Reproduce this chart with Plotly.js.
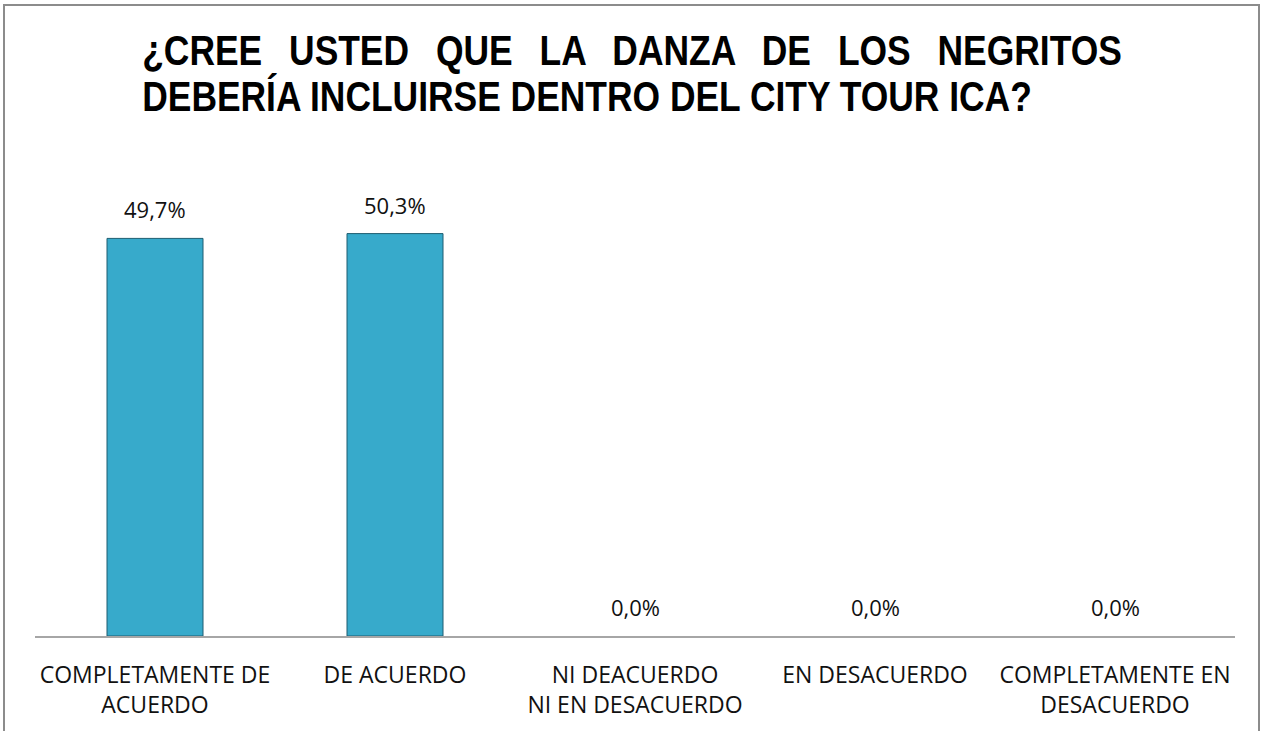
<!DOCTYPE html>
<html>
<head>
<meta charset="utf-8">
<script src="https://cdn.plot.ly/plotly-3.0.1.min.js"></script>
<style>
  body { margin: 0; background: #fff; }
  #frame {
    position: absolute; left: 3px; top: 4px; width: 1253px; height: 740px;
    border: 2px solid #8c8c8c; border-bottom: none; pointer-events: none;
  }
  #chart { position: absolute; left: 0; top: 0; width: 1267px; height: 731px; }
</style>
</head>
<body>
<div id="chart"></div>
<div id="frame"></div>
<script>
const chartDiv = document.getElementById("chart")

// categories (tick labels) and percentages
const categories = [
    "COMPLETAMENTE DE<br>ACUERDO",
    "DE ACUERDO",
    "NI DEACUERDO<br>NI EN DESACUERDO",
    "EN DESACUERDO",
    "COMPLETAMENTE EN<br>DESACUERDO"
]
const percentages = [49.7, 50.3, 0.0, 0.0, 0.0]
const valueLabels = percentages.map(v => v.toFixed(1).replace(".", ",") + "%")

const titleLines = [
    "¿CREE USTED QUE LA DANZA DE LOS NEGRITOS",
    "DEBERÍA INCLUIRSE DENTRO DEL CITY TOUR ICA?"
]

const W = 1267, H = 731
const margin = { l: 35, r: 32, t: 196, b: 95 }
const plotH = H - margin.t - margin.b
// pixel (from top of page) -> paper y
const py = px => (H - margin.b - px) / plotH
const px2x = px => (px - margin.l) / (W - margin.l - margin.r)

const titleLeft = 140
const titleWidths = [980, 890]   // justified first line, natural second line

let trace = {
    x: categories,
    y: percentages,
    type: "bar",
    marker: {
        color: "#37AACB",
        line: { color: "#1E5D70", width: percentages.map(v => v > 0 ? 1 : 0) }
    },
    hoverinfo: "skip"
}

let titleAnnotations = titleLines.map((t, i) => ({
    text: t,
    xref: "paper", yref: "paper",
    x: px2x(titleLeft), xanchor: "left",
    y: py([50, 97][i]), yanchor: "middle",
    showarrow: false,
    font: { family: "Liberation Sans", weight: "bold", size: 42, color: "#000" }
}))

let valueAnnotations = categories.map((c, i) => ({
    text: valueLabels[i],
    x: c, y: percentages[i],
    xref: "x", yref: "y",
    yanchor: "bottom",
    yshift: 12,
    showarrow: false,
    font: { family: "Open Sans", size: 22, color: "#111" }
}))

let layout = {
    width: W,
    height: H,
    margin: margin,
    paper_bgcolor: "#fff",
    plot_bgcolor: "#fff",
    showlegend: false,
    bargap: 0.6,
    font: { family: "Open Sans", color: "#111" },
    xaxis: {
        type: "category",
        showline: true,
        linecolor: "#a6a6a6",
        linewidth: 2,
        ticks: "",
        ticklabelstandoff: 17,
        tickfont: { family: "Open Sans", size: 23, color: "#111" },
        showgrid: false,
        zeroline: false
    },
    yaxis: {
        range: [0, 55],
        visible: false,
        showgrid: false,
        zeroline: false
    },
    annotations: titleAnnotations.concat(valueAnnotations)
}

let config = { staticPlot: true }

// squeeze the title into a narrow look and justify the first line
function fitTitle () {
    let texts = titleLines.map((t, i) =>
        chartDiv.querySelector('g.annotation[data-index="' + i + '"] text.annotation-text'))
    if (texts.some(t => !t)) return
    let sx = titleWidths[1] / texts[1].getBBox().width
    texts.forEach((el, i) => {
        let x0 = el.getBBox().x
        if (i === 0) {
            let gaps = titleLines[0].split(" ").length - 1
            let extra = (titleWidths[0] / sx - el.getBBox().width) / gaps
            el.style.wordSpacing = extra + "px"
        }
        let b = el.getBBox()
        let old = el.getAttribute("transform") || ""
        el.setAttribute("transform",
            old + " translate(" + x0 + ",0) scale(" + sx + ",1) translate(" + (-b.x) + ",0)")
    })
}

Plotly.newPlot(chartDiv, [trace], layout, config).then(fitTitle)
</script>
</body>
</html>
